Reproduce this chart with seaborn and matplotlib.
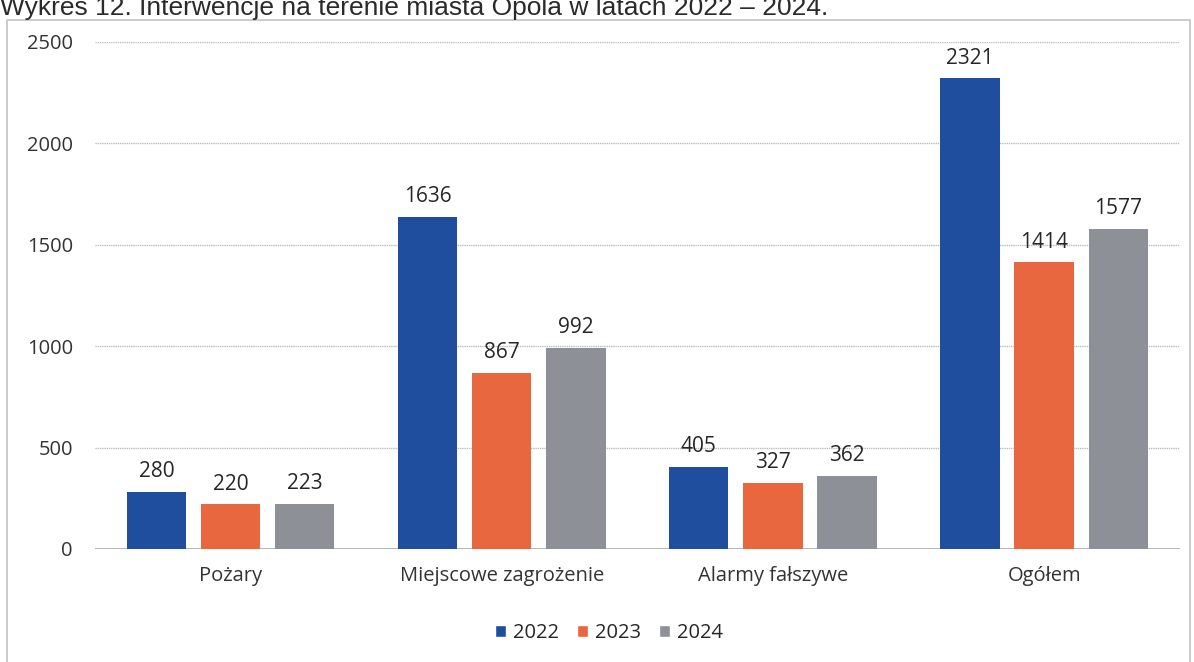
import pandas as pd
import seaborn as sns
import matplotlib.pyplot as plt
from matplotlib.patches import Rectangle, Patch

# Values
categories = ['Pożary', 'Miejscowe zagrożenie', 'Alarmy fałszywe', 'Ogółem']
years = ['2022', '2023', '2024']
v2022 = [280, 1636, 405, 2321]
v2023 = [220, 867, 327, 1414]
v2024 = [223, 992, 362, 1577]
colors = ['#1F4E9E', '#E8673E', '#8E9097']

rows = []
for yr, vals in zip(years, [v2022, v2023, v2024]):
    for cat, v in zip(categories, vals):
        rows.append({'kategoria': cat, 'rok': yr, 'liczba': v})
df = pd.DataFrame(rows)

sns.set_style('white')
plt.rcParams['font.family'] = ['Open Sans', 'DejaVu Sans']

fig = plt.figure(figsize=(11.94, 6.62), dpi=100)
ax = fig.add_axes([0.0796, 0.1707, 0.9084, 0.7659])

sns.barplot(data=df, x='kategoria', y='liczba', hue='rok', order=categories,
            hue_order=years, palette=colors, width=0.82, gap=0.2,
            saturation=1, legend=False, linewidth=0, ax=ax)

for cont in ax.containers:
    ax.bar_label(cont, padding=7, fontsize=15, color='#262626')

ax.set_ylim(0, 2500)
ax.set_yticks([0, 500, 1000, 1500, 2000, 2500])
ax.set_xlabel('')
ax.set_ylabel('')
ax.grid(axis='y', color='#BDBDBD', linewidth=1, linestyle=(0, (1, 0.6)))
ax.set_axisbelow(True)
for s in ax.spines.values():
    s.set_visible(False)
ax.axhline(0, color='#A8A8A8', linewidth=1.2, zorder=0.5)
ax.tick_params(axis='y', length=0, pad=16, labelsize=14.5, labelcolor='#333333')
ax.tick_params(axis='x', length=0, pad=12, labelsize=14.5, labelcolor='#333333')

handles = [Patch(facecolor=c, label=y) for c, y in zip(colors, years)]
fig.legend(handles=handles, loc='center', bbox_to_anchor=(0.51, 0.044), ncol=3,
           frameon=False, fontsize=14.5, handlelength=0.55, handleheight=0.55,
           handletextpad=0.35, columnspacing=0.9)

# frame around the chart
fig.add_artist(Rectangle((7 / 1194, -0.01), 1183 / 1194, 1 - 20 / 662 + 0.01,
                         transform=fig.transFigure, fill=False,
                         edgecolor='#C4C4C4', linewidth=1.2))

# title, cut off at the top in the source
fig.text(0.0, 1 - 15 / 662, 'Wykres 12. Interwencje na terenie miasta Opola w latach 2022 – 2024.',
         fontsize=19, family='Liberation Sans', color='#2a2a2a', va='baseline', ha='left')

fig.savefig('out.png', dpi=100)
